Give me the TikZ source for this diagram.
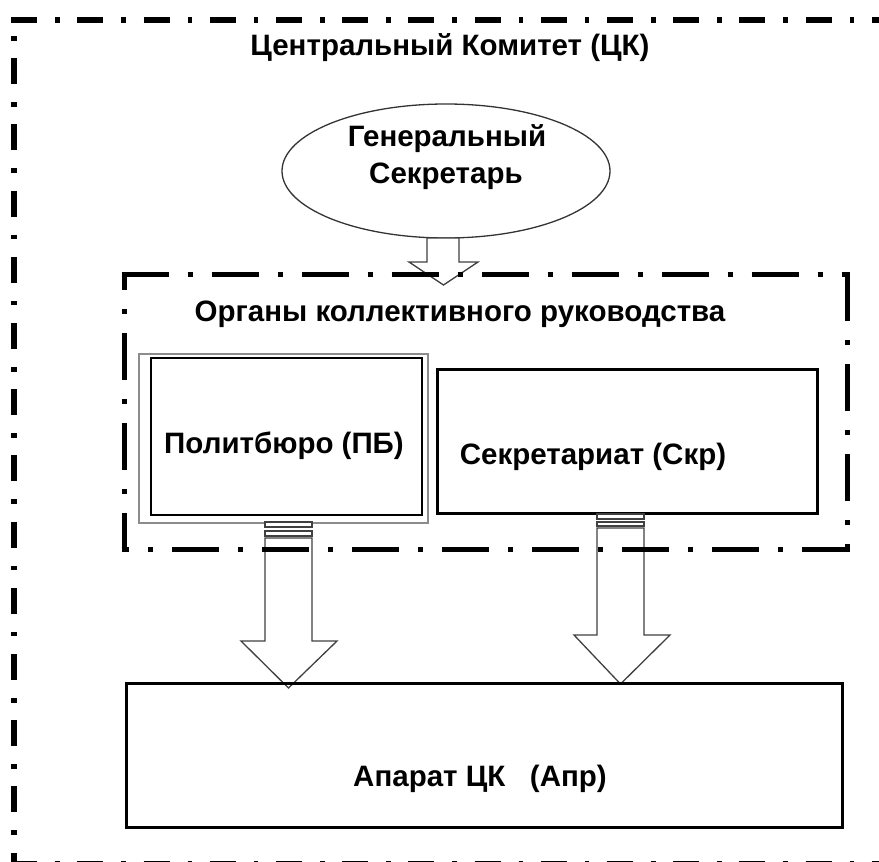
\documentclass[tikz,border=0pt]{standalone}
\usepackage{fontspec}
\setmainfont{Liberation Sans}
\begin{document}
\begin{tikzpicture}[x=1pt,y=-1pt,
  lbl/.style={font=\bfseries\fontsize{29.5}{34}\selectfont, anchor=base, inner sep=0pt},
  outerframe/.style={line width=5.5pt, line cap=butt, dash pattern=on 26pt off 18pt on 4.5pt off 17.7pt},
  innerframe/.style={line width=5pt, line cap=butt, dash pattern=on 47pt off 19pt on 5pt off 19pt},
  blockarrow/.style={draw=black!75, line width=1.3pt, fill=white, line join=miter},
  thickbox/.style={draw=black, line width=3pt},
]
\useasboundingbox (0,0) rectangle (879,862);
\clip (0,0) rectangle (879,862);

% ellipse
\draw[black!80, line width=1.3pt] (446,171) ellipse [x radius=164, y radius=67];

% Politburo double box
\draw[black!45, line width=1.5pt] (139,354) rectangle (428,523);
\draw[black, line width=1.5pt] (151,358) rectangle (422,515);

% Secretariat box
\draw[thickbox] (437,369) rectangle (817,513);

% arrow from general secretary
\draw[blockarrow] (427,238) -- (459,238) -- (459,262) -- (478,262) -- (443.5,285) -- (409,262) -- (427,262) -- cycle;

% arrow 1 (Politburo -> Apparat)
\draw[blockarrow] (265,522) rectangle (312,527);
\draw[blockarrow] (265,531) rectangle (312,536);
\draw[blockarrow] (265,538) -- (312,538) -- (312,641) -- (337,641) -- (288.5,688) -- (241,641) -- (265,641) -- cycle;

% arrow 2 (Secretariat -> Apparat)
\draw[blockarrow] (597,514) rectangle (644,519);
\draw[blockarrow] (597,522) rectangle (644,526);
\draw[blockarrow] (597,528) -- (644,528) -- (644,635) -- (670,635) -- (620.5,684) -- (574,635) -- (597,635) -- cycle;

% Apparat box
\draw[thickbox] (126,683) rectangle (842,827);

% inner frame
\draw[innerframe] (121.5,274) -- (849.5,274);
\draw[innerframe, dash phase=0pt] (847,274) -- (847,551.5);
\draw[innerframe, dash phase=39.5pt] (121.5,549) -- (849.5,549);
\draw[innerframe, dash phase=31pt] (124,274) -- (124,551.5);

% outer frame
\draw[outerframe] (11.25,20) -- (900,20);
\draw[outerframe, dash phase=28pt] (14,20) -- (14,900);
\draw[outerframe] (11.25,864) -- (900,864);

% texts
\node[lbl] (ck) at (450,56) {Центральный Комитет (ЦК)};
\node[lbl] (gen1) at (447,146) {Генеральный};
\node[lbl] (gen2) at (446,183) {Секретарь};
\node[lbl] (org) at (460,321) {Органы коллективного руководства};
\node[lbl] (pb) at (284,453) {Политбюро (ПБ)};
\node[lbl] (skr) at (593,464) {Секретариат (Скр)};
\node[lbl] (apr) at (480,786) {Апарат ЦК\ \ \ (Апр)};
\end{tikzpicture}
\end{document}
